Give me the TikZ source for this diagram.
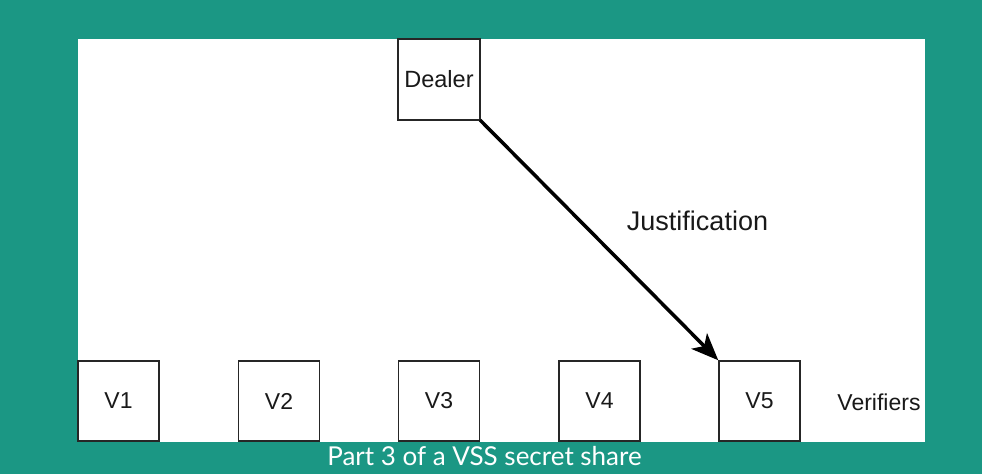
\documentclass[tikz,border=0pt]{standalone}
\usepackage{fontspec}
\setmainfont{Liberation Sans}
\newfontfamily\latofont{Lato}
\usetikzlibrary{arrows.meta}
\definecolor{tealbg}{HTML}{1B9784}
\begin{document}
\begin{tikzpicture}[x=1pt,y=-1pt,
  box/.style={draw=black!85,line width=1.5pt,fill=white,minimum width=81pt,minimum height=80pt,inner sep=0pt,text=black!90,font=\fontsize{23}{25}\selectfont},
  lbl/.style={inner sep=0pt,text=black!90}]
\fill[tealbg] (0,0) rectangle (982,474);
\fill[white] (78,39) rectangle (925,442);
\useasboundingbox (0,0) rectangle (982,474);
\node[box,minimum width=82pt,minimum height=81pt,font=\fontsize{23.5}{26}\selectfont] (dealer) at (439,79.5) {Dealer};
\node[box] (v1) at (118.5,401) {V1};
\node[box] (v2) at (279,401) {V2};
\node[box] (v3) at (439,401) {V3};
\node[box] (v4) at (599.5,401) {V4};
\node[box] (v5) at (759.5,401) {V5};
\node[lbl,font=\fontsize{23}{25}\selectfont] (ver) at (879,402) {Verifiers};
\node[lbl,font=\fontsize{27}{30}\selectfont] (just) at (697.5,221) {Justification};
\draw[line width=3.5pt,black,-{Stealth[length=27pt,width=22pt,inset=7pt]},shorten <=-1pt] (dealer.south east) -- (v5.north west);
\node[inner sep=0pt,text=white,font=\latofont\fontsize{26}{28}\selectfont] (cap) at (484.5,456) {Part 3 of a VSS secret share};
\end{tikzpicture}
\end{document}
